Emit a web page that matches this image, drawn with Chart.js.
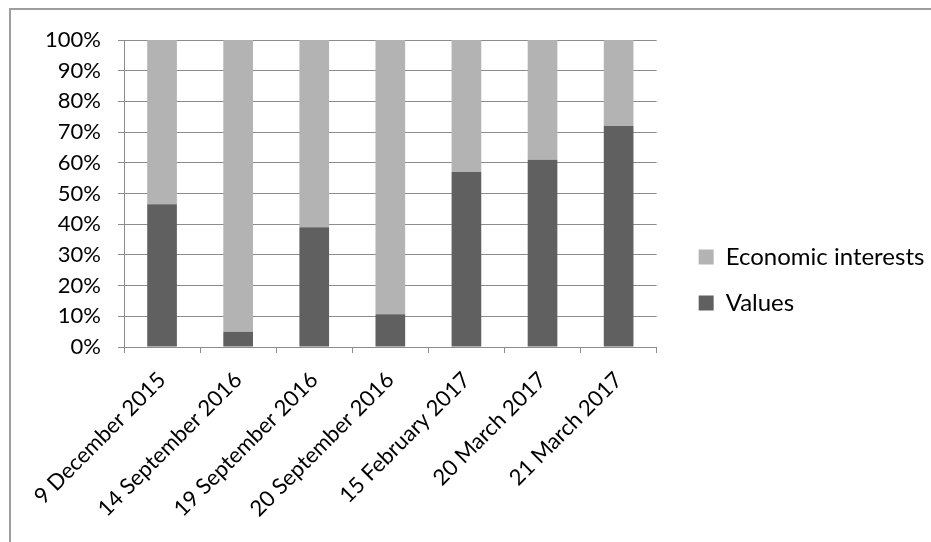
<!DOCTYPE html>
<html>
<head>
<meta charset="utf-8">
<script src="https://cdn.jsdelivr.net/npm/chart.js@4.4.0/dist/chart.umd.min.js"></script>
<style>
  html, body { margin: 0; padding: 0; background: #fff; }
  #wrap { position: relative; width: 931px; height: 542px; overflow: hidden; }
  #frame { position: absolute; left: 9px; top: 8px; width: 940px; height: 560px; border: 2px solid #9e9e9e; box-sizing: border-box; }
  canvas { position: absolute; left: 0; top: 0; }
</style>
</head>
<body>
<div id="wrap">
  <div id="frame"></div>
  <canvas id="c" width="931" height="542"></canvas>
</div>
<script>
const categories = ['9 December 2015', '14 September 2016', '19 September 2016', '20 September 2016', '15 February 2017', '20 March 2017', '21 March 2017'];
const valuesShare = [46.5, 5, 39, 10.7, 57, 61, 72];
const economicShare = [53.5, 95, 61, 89.3, 43, 39, 28];
const yTicks = [0, 10, 20, 30, 40, 50, 60, 70, 80, 90, 100];

const FONT = 'Lato';
const legendFontSize = 24;
const legendPad = 22;
const legendBox = 15;
const plotLeft = 124, plotRight = 656, plotTop = 40, plotBottom = 347;
const W = 931, H = 542;

const legendShift = {
  id: 'legendShift',
  afterLayout(chart) {
    const lg = chart.legend;
    if (!lg) return;
    const dx = 20, dy = -11;
    lg.left += dx;
    lg.right = W;
    lg.top += dy; lg.bottom += dy;
  }
};

function draw() {
  const chart = new Chart(document.getElementById('c'), {
    type: 'bar',
    data: {
      labels: categories,
      datasets: [
        { label: 'Values', data: valuesShare, backgroundColor: '#606060', borderWidth: 0 },
        { label: 'Economic interests', data: economicShare, backgroundColor: '#b3b3b3', borderWidth: 0 }
      ]
    },
    plugins: [legendShift],
    options: {
      responsive: false,
      animation: false,
      devicePixelRatio: 1,
      layout: { padding: { top: plotTop, left: 0, right: 0, bottom: 0 } },
      datasets: { bar: { categoryPercentage: 1, barPercentage: 0.39 } },
      plugins: {
        tooltip: { enabled: false },
        legend: {
          position: 'right',
          reverse: true,
          labels: {
            boxWidth: legendBox, boxHeight: legendBox, padding: legendPad,
            color: '#000', font: { family: FONT, size: legendFontSize }
          }
        }
      },
      scales: {
        x: {
          stacked: true,
          grid: { display: true, drawOnChartArea: false, drawTicks: true, tickLength: 6, color: '#8c8c8c', offset: true },
          border: { display: true, color: '#8c8c8c', width: 1 },
          ticks: { maxRotation: 45, minRotation: 45, autoSkip: false, padding: 14, color: '#000', font: { family: FONT, size: 22 } },
          afterFit(scale) { scale.height = H - plotBottom; }
        },
        y: {
          stacked: true,
          min: 0, max: 100,
          afterBuildTicks(scale) { scale.ticks = yTicks.map(v => ({ value: v })); },
          grid: { color: '#8c8c8c', tickLength: 6, drawTicks: true },
          border: { display: true, color: '#8c8c8c', width: 1 },
          ticks: { padding: 17, color: '#000', font: { family: FONT, size: 22 }, callback: v => v + '%' },
          afterFit(scale) { scale.width = plotLeft; }
        }
      }
    }
  });
  for (let i = 0; i < 3; i++) {
    const delta = chart.chartArea.right - plotRight;
    if (Math.abs(delta) < 0.5) break;
    chart.options.layout.padding.right += delta;
    chart.update();
  }
}
document.fonts.load(legendFontSize + 'px ' + FONT).then(draw, draw);
</script>
</body>
</html>
